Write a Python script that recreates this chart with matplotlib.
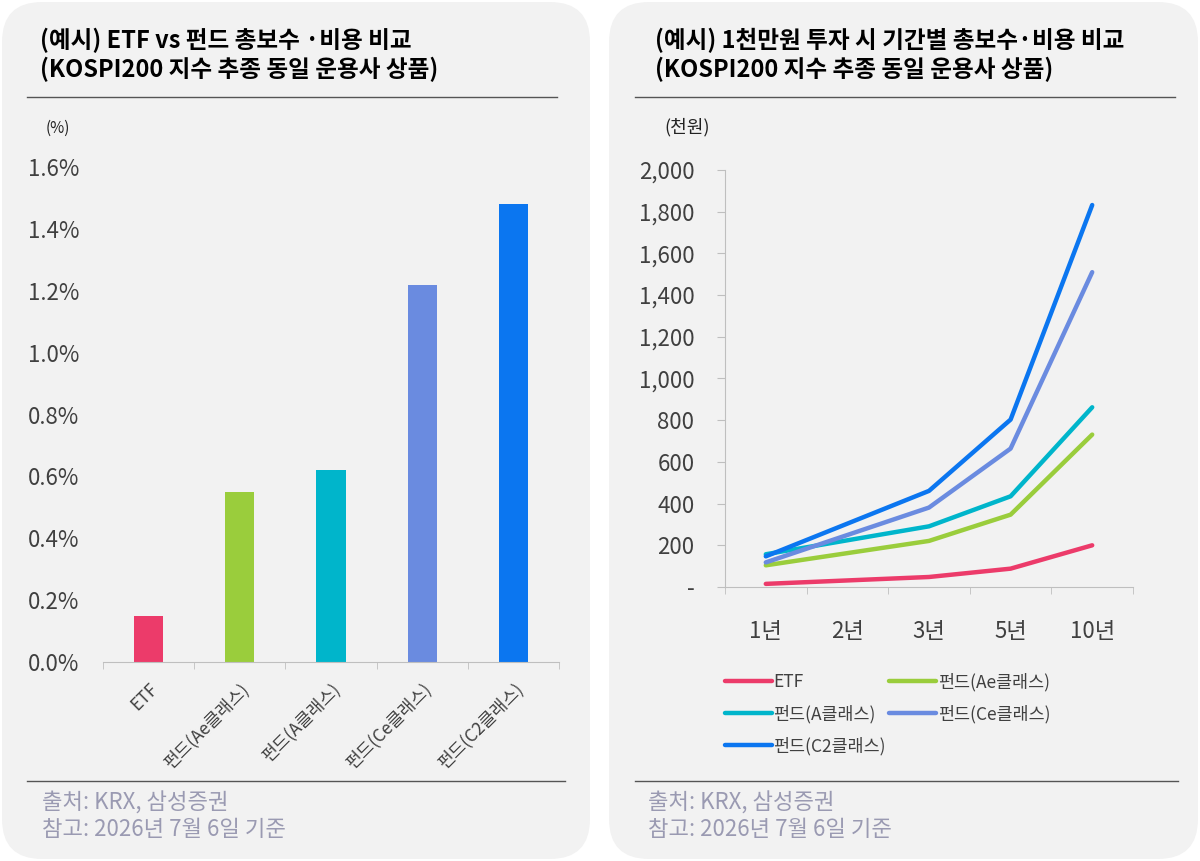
import matplotlib
matplotlib.use("Agg")
import matplotlib.pyplot as plt
from matplotlib.patches import FancyBboxPatch
import numpy as np

plt.rcParams['font.family'] = ['Noto Sans CJK KR', 'DejaVu Sans']

# 왼쪽: 총보수·비용 (%)
bar_labels = ['ETF', '펀드(Ae클래스)', '펀드(A클래스)', '펀드(Ce클래스)', '펀드(C2클래스)']
bar_values = [0.15, 0.55, 0.62, 1.22, 1.48]
colors = ['#EC3B6A', '#9ACD3C', '#00B5CB', '#6A8BE0', '#0B76F0']

# 오른쪽: 1천만원 투자 시 기간별 총보수·비용 (천원), 2년은 값 없음
periods = ['1년', '2년', '3년', '5년', '10년']
etf = [15, None, 48, 88, 200]
fund_ae = [104, None, 221, 347, 731]
fund_a = [157, None, 291, 435, 862]
fund_ce = [118, None, 381, 664, 1510]
fund_c2 = [147, None, 461, 803, 1832]
series = [etf, fund_ae, fund_a, fund_ce, fund_c2]

W, H = 1200, 861
fig = plt.figure(figsize=(W / 100, H / 100), dpi=100, facecolor='white')


def rect(x0, y0, x1, y1):
    return [x0 / W, 1 - y1 / H, (x1 - x0) / W, (y1 - y0) / H]


# 배경 패널
bg = fig.add_axes([0, 0, 1, 1], zorder=-10)
bg.set_xlim(0, W)
bg.set_ylim(H, 0)
bg.axis('off')
for x0, x1 in [(2, 590), (609, 1198)]:
    bg.add_patch(FancyBboxPatch((x0 + 40, 42), x1 - x0 - 80, H - 84,
                                boxstyle='round,pad=40', fc='#F2F2F2', ec='none'))
bg.plot([27, 557], [97, 97], color='#555555', lw=1)
bg.plot([27, 565], [781, 781], color='#555555', lw=1)
bg.plot([635, 1175], [97, 97], color='#555555', lw=1)
bg.plot([635, 1178], [781, 781], color='#555555', lw=1)

title_kw = dict(fontsize=17, fontweight='bold', color='black', va='center')
bg.text(40, 40, '(예시) ETF vs 펀드 총보수 ·비용 비교', **title_kw)
bg.text(40, 69, '(KOSPI200 지수 추종 동일 운용사 상품)', **title_kw)
bg.text(655, 40, '(예시) 1천만원 투자 시 기간별 총보수·비용 비교', **title_kw)
bg.text(655, 69, '(KOSPI200 지수 추종 동일 운용사 상품)', **title_kw)

bg.text(46, 128, '(%)', fontsize=11, color='#222222', va='center')
bg.text(664, 127, '(천원)', fontsize=13, color='#222222', va='center')

foot_kw = dict(fontsize=16, color='#9A9AB2', va='center')
for x in [42, 648]:
    bg.text(x, 803, '출처: KRX, 삼성증권', **foot_kw)
    bg.text(x, 830, '참고: 2026년 7월 6일 기준', **foot_kw)

# 왼쪽 막대 차트
ax1 = fig.add_axes(rect(103, 167, 559, 662))
ax1.set_facecolor('none')
x = np.arange(len(bar_labels))
ax1.bar(x, bar_values, width=0.32, color=colors)
ax1.set_xlim(-0.5, len(bar_labels) - 0.5)
ax1.set_ylim(0, 1.6)
ax1.set_yticks(np.arange(0, 1.61, 0.2))
ax1.set_yticklabels([f'{v:.1f}%' for v in np.arange(0, 1.61, 0.2)])
ax1.set_xticks(x)
ax1.set_xticklabels(bar_labels, rotation=45, ha='right', rotation_mode='anchor')
ax1.set_xticks(np.arange(-0.5, len(bar_labels)), minor=True)
ax1.tick_params(axis='x', which='major', length=0, pad=13, labelsize=12.5, labelcolor='#404040')
ax1.tick_params(axis='x', which='minor', length=5, color='#BFBFBF')
ax1.tick_params(axis='y', length=0, pad=17, labelsize=16, labelcolor='#404040')
for s in ['top', 'right', 'left']:
    ax1.spines[s].set_visible(False)
ax1.spines['bottom'].set_color('#BFBFBF')

# 오른쪽 선 차트
ax2 = fig.add_axes(rect(725, 170, 1133, 587))
ax2.set_facecolor('none')
handles = []
for vals, c, lab in zip(series, colors, bar_labels):
    xs = [i for i, v in enumerate(vals) if v is not None]
    ys = [v for v in vals if v is not None]
    h, = ax2.plot(xs, ys, color=c, lw=3.2, solid_capstyle='round',
                  solid_joinstyle='round', label=lab)
    handles.append(h)
ax2.set_xlim(-0.5, len(periods) - 0.5)
ax2.set_ylim(0, 2000)
ax2.set_yticks(np.arange(0, 2001, 200))
ax2.set_yticklabels(['-'] + [f'{v:,}' for v in range(200, 2001, 200)])
ax2.set_xticks(range(len(periods)))
ax2.set_xticklabels(periods)
ax2.set_xticks(np.arange(-0.5, len(periods)), minor=True)
ax2.tick_params(axis='x', which='major', length=0, pad=24, labelsize=16, labelcolor='#404040')
ax2.tick_params(axis='x', which='minor', length=5, color='#BFBFBF')
ax2.tick_params(axis='y', length=6, color='#BFBFBF', pad=16, labelsize=16, labelcolor='#404040')
for s in ['top', 'right']:
    ax2.spines[s].set_visible(False)
ax2.spines['bottom'].set_color('#BFBFBF')
ax2.spines['left'].set_color('#BFBFBF')

order = [0, 2, 4, 1, 3]
leg = fig.legend([handles[i] for i in order], [bar_labels[i] for i in order],
                 ncol=2, loc='upper left', bbox_to_anchor=(709 / W, 1 - 657 / H),
                 frameon=False, fontsize=12.5, handlelength=2.7, handletextpad=0.1,
                 columnspacing=0.2, labelspacing=0.78, labelcolor='#404040')

fig.savefig('out.png', dpi=100, facecolor='white')
